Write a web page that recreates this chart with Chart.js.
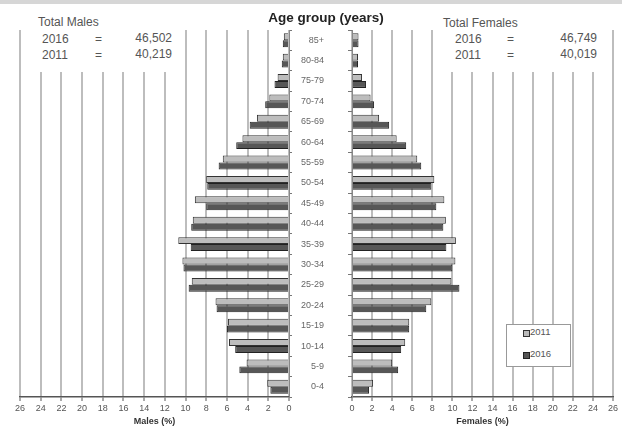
<!DOCTYPE html>
<html>
<head>
<meta charset="utf-8">
<script src="https://cdn.jsdelivr.net/npm/chart.js@4"></script>
<style>
  body { margin: 0; background: #fff; }
  #wrap { position: relative; width: 622px; height: 428px; overflow: hidden; background: #fff;
          font-family: "Liberation Sans", Arial, sans-serif; color: #555; }
  .abs { position: absolute; }
  .box { position: absolute; background: #fff; }
  .t { position: absolute; font-size: 12px; line-height: 14px; white-space: nowrap; }
</style>
</head>
<body>
<div id="wrap">
  <div class="abs" style="left:0;top:0;width:622px;height:4px;background:#d6d6d6"></div>
  <div class="abs" style="left:0;top:0;width:300px;height:428px"><canvas id="chartMales"></canvas></div>
  <div class="abs" style="left:290px;top:0;width:332px;height:428px"><canvas id="chartFemales"></canvas></div>

  <!-- cajas de totales, tapan la rejilla -->
  <div class="box" style="left:30px;top:6px;width:150px;height:66px"></div>
  <div class="t" style="left:38px;top:15px">Total Males</div>
  <div class="t" style="left:42px;top:32px">2016</div>
  <div class="t" style="left:95px;top:32px">=</div>
  <div class="t" style="left:172px;top:31px;transform:translateX(-100%)" id="m16"></div>
  <div class="t" style="left:42px;top:48px">2011</div>
  <div class="t" style="left:95px;top:48px">=</div>
  <div class="t" style="left:172px;top:47px;transform:translateX(-100%)" id="m11"></div>

  <div class="box" style="left:437px;top:6px;width:168px;height:66px"></div>
  <div class="t" style="left:443px;top:16px">Total Females</div>
  <div class="t" style="left:455px;top:32px">2016</div>
  <div class="t" style="left:507px;top:32px">=</div>
  <div class="t" style="left:597px;top:31px;transform:translateX(-100%)" id="f16"></div>
  <div class="t" style="left:455px;top:48px">2011</div>
  <div class="t" style="left:507px;top:48px">=</div>
  <div class="t" style="left:597px;top:47px;transform:translateX(-100%)" id="f11"></div>

  <div class="t" style="left:326px;top:11px;transform:translateX(-50%);font-weight:bold;font-size:13.5px;color:#222">Age group (years)</div>

  <!-- leyenda -->
  <div class="box" style="left:506px;top:324px;width:63px;height:41px;border:1px solid #999"></div>
  <div class="abs" style="left:523px;top:330px;width:5px;height:5px;background:#bbb;border:1px solid #333"></div>
  <div class="t" style="left:530px;top:326px;font-size:9.5px;line-height:12px">2011</div>
  <div class="abs" style="left:523px;top:352px;width:5px;height:5px;background:#555;border:1px solid #222"></div>
  <div class="t" style="left:530px;top:348px;font-size:9.5px;line-height:12px">2016</div>
</div>

<script>
const ageGroups = ['85+', '80-84', '75-79', '70-74', '65-69', '60-64', '55-59', '50-54', '45-49',
                   '40-44', '35-39', '30-34', '25-29', '20-24', '15-19', '10-14', '5-9', '0-4'];

const males2011 = [0.5, 0.6, 1.1, 1.9, 3.1, 4.5, 6.4, 8.0, 9.1, 9.3, 10.7, 10.3, 9.4, 7.1, 5.9, 5.8, 4.1, 2.1];
const males2016 = [0.6, 0.7, 1.4, 2.3, 3.8, 5.1, 6.8, 7.9, 8.0, 9.45, 9.5, 10.2, 9.7, 7.0, 6.0, 5.2, 4.8, 1.8];
const females2011 = [0.65, 0.6, 1.0, 1.85, 2.7, 4.45, 6.5, 8.2, 9.2, 9.35, 10.35, 10.3, 9.9, 7.9, 5.7, 5.3, 4.0, 2.1];
const females2016 = [0.65, 0.6, 1.4, 2.2, 3.7, 5.4, 6.9, 7.9, 8.4, 9.1, 9.4, 10.0, 10.7, 7.4, 5.7, 4.9, 4.6, 1.7];

const totalMales = { 2016: '46,502', 2011: '40,219' };
const totalFemales = { 2016: '46,749', 2011: '40,019' };

const tickFont = { family: 'Liberation Sans', size: 9 };

function datasets(d11, d16) {
    return [
        { label: '2011', data: d11, backgroundColor: '#bdbdbd', borderColor: '#333', borderWidth: 1,
          categoryPercentage: 0.68, barPercentage: 1.0 },
        { label: '2016', data: d16, backgroundColor: '#575757', borderColor: '#222', borderWidth: 1,
          categoryPercentage: 0.68, barPercentage: 1.0 }
    ];
}

function xScale(reverse, title) {
    return {
        type: 'linear', min: 0, max: 26, reverse: reverse,
        ticks: { stepSize: 2, font: tickFont, color: '#555', padding: 2, maxRotation: 0 },
        grid: { color: '#bdbdbd', lineWidth: 2, tickColor: '#555', tickWidth: 1, tickLength: 4 },
        border: { color: '#555', width: 1.5 },
        title: { display: true, text: title, font: { family: 'Liberation Sans', size: 9, weight: 'bold' },
                 color: '#333', padding: { top: 1, bottom: 1 } },
        afterFit: s => { s.height = 31; }
    };
}

document.addEventListener('DOMContentLoaded', () => {
    document.getElementById('m16').innerText = totalMales[2016];
    document.getElementById('m11').innerText = totalMales[2011];
    document.getElementById('f16').innerText = totalFemales[2016];
    document.getElementById('f11').innerText = totalFemales[2011];

    // Hombres (eje invertido)
    new Chart(document.getElementById('chartMales').getContext('2d'), {
        type: 'bar',
        data: { labels: ageGroups, datasets: datasets(males2011, males2016) },
        options: {
            indexAxis: 'y',
            responsive: true,
            maintainAspectRatio: false,
            animation: false,
            layout: { padding: { top: 30, left: 20, right: 0, bottom: 0 } },
            plugins: { legend: { display: false }, tooltip: { enabled: false } },
            scales: {
                x: xScale(true, 'Males (%)'),
                y: {
                    position: 'right',
                    ticks: { display: false },
                    grid: { drawOnChartArea: false, tickLength: 3, color: '#777' },
                    border: { color: '#888', width: 1 },
                    afterFit: s => { s.width = 11; }
                }
            }
        }
    });

    // Mujeres
    new Chart(document.getElementById('chartFemales').getContext('2d'), {
        type: 'bar',
        data: { labels: ageGroups, datasets: datasets(females2011, females2016) },
        options: {
            indexAxis: 'y',
            responsive: true,
            maintainAspectRatio: false,
            animation: false,
            layout: { padding: { top: 30, left: 0, right: 9, bottom: 0 } },
            plugins: { legend: { display: false }, tooltip: { enabled: false } },
            scales: {
                x: xScale(false, 'Females (%)'),
                y: {
                    position: 'left',
                    ticks: { font: tickFont, color: '#666', padding: 24 },
                    grid: { drawOnChartArea: false, tickLength: 4, color: '#777' },
                    border: { color: '#888', width: 1 },
                    afterFit: s => { s.width = 62; }
                }
            }
        }
    });
});
</script>
</body>
</html>
